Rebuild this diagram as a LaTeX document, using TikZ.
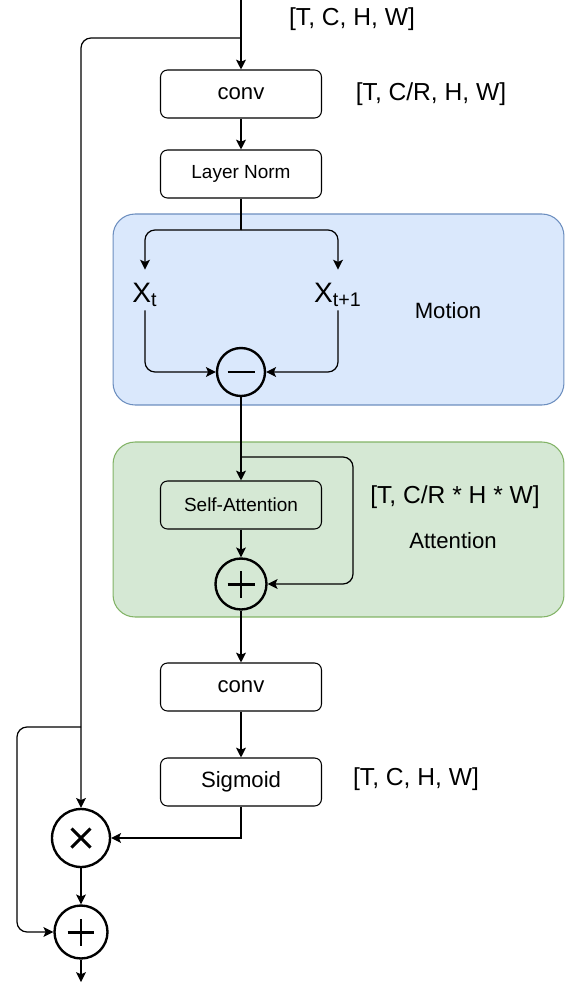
\documentclass[tikz,border=0pt]{standalone}
\usepackage{fontspec}
\setmainfont{Liberation Sans}
\usetikzlibrary{arrows.meta}
\definecolor{motionfill}{HTML}{DAE8FC}
\definecolor{motionline}{HTML}{6C8EBF}
\definecolor{attnfill}{HTML}{D5E8D4}
\definecolor{attnline}{HTML}{82B366}

\begin{document}
\begin{tikzpicture}[x=0.02cm, y=-0.02cm,
  blk/.style={draw, rounded corners=0.14cm, minimum width=3.22cm, minimum height=0.96cm, inner sep=0pt, line width=0.6pt, font=\fontsize{12.6}{14}\selectfont},
  smallblk/.style={blk, font=\fontsize{10.8}{12}\selectfont},
  region/.style={rounded corners=0.44cm, line width=0.6pt, minimum width=9.02cm, inner sep=0pt},
  dims/.style={font=\fontsize{14}{16}\selectfont, inner sep=0pt},
  tag/.style={font=\fontsize{12.6}{14}\selectfont, inner sep=0pt},
  xlbl/.style={font=\fontsize{16}{18}\selectfont, inner sep=0pt, text height=0.64cm, text depth=0.16cm},
  opc/.style={circle, draw, line width=1.35pt, inner sep=0pt},
  sumop/.style={opc, path picture={\draw[line width=1.7pt] ([xshift=-0.27cm]path picture bounding box.center) -- ([xshift=0.27cm]path picture bounding box.center) ([yshift=-0.27cm]path picture bounding box.center) -- ([yshift=0.27cm]path picture bounding box.center);}},
  diffop/.style={opc, path picture={\draw[line width=1.7pt] ([xshift=-0.27cm]path picture bounding box.center) -- ([xshift=0.27cm]path picture bounding box.center);}},
  multop/.style={opc, path picture={\draw[line width=1.7pt] ([xshift=-0.19cm,yshift=-0.19cm]path picture bounding box.center) -- ([xshift=0.19cm,yshift=0.19cm]path picture bounding box.center) ([xshift=-0.19cm,yshift=0.19cm]path picture bounding box.center) -- ([xshift=0.19cm,yshift=-0.19cm]path picture bounding box.center);}},
  arr/.style={-{Stealth[length=5.6pt,width=5.6pt,inset=1.2pt]}, line width=0.7pt},
  rnd/.style={rounded corners=0.2cm}]
\useasboundingbox (0,0) rectangle (569,984);
% background regions
\node[region, fill=motionfill, draw=motionline, minimum height=3.82cm] (motionbg) at (338.5,309.5) {};
\node[region, fill=attnfill, draw=attnline, minimum height=3.5cm] (attnbg) at (338.5,529.5) {};
% main column
\coordinate (in) at (241,0);
\coordinate (split) at (241,38);
\node[blk] (conv1) at (241,94) {conv};
\node[smallblk] (ln) at (241,174) {Layer Norm};
\coordinate (fork) at (241,230);
\node[xlbl] (xt) at (145,290) {X\textsubscript{t}};
\node[xlbl] (xt1) at (338,290) {X\textsubscript{t+1}};
\node[diffop, minimum size=0.96cm] (minus) at (241,372) {};
\coordinate (attsplit) at (241,457);
\coordinate (attright) at (353,520);
\node[smallblk] (sa) at (241,505) {Self-Attention};
\node[sumop, minimum size=1.02cm] (attplus) at (241,584) {};
\node[blk] (conv2) at (241,687) {conv};
\node[blk] (sig) at (241,782) {Sigmoid};
% output column
\node[multop, minimum size=1.16cm] (times) at (81,838) {};
\node[sumop, minimum size=1.06cm] (botplus) at (81,932) {};
\coordinate (skip) at (81,727);
\coordinate (skipleft) at (17,830);
\coordinate (out) at (81,982);
% labels
\node[dims] (d1) at (352,19) {[T, C, H, W]};
\node[dims] (d2) at (431,94) {[T, C/R, H, W]};
\node[dims] (d3) at (455,497) {[T, C/R * H * W]};
\node[dims] (d4) at (416,779) {[T, C, H, W]};
\node[tag] (mlbl) at (448,311) {Motion};
\node[tag] (albl) at (453,541) {Attention};
% connectors
\draw[arr] (in) -- (conv1);
\draw[arr, rnd] (split) -| (times);
\draw[arr] (conv1) -- (ln);
\draw[line width=0.7pt] (ln) -- (fork);
\draw[arr, rnd] (fork) -| (xt);
\draw[arr, rnd] (fork) -| (xt1);
\draw[arr, rnd] (xt) |- (minus);
\draw[arr, rnd] (xt1) |- (minus);
\draw[arr] (minus) -- (sa);
\draw[arr, rnd] (attsplit) -| (attright) |- (attplus);
\draw[arr] (sa) -- (attplus);
\draw[arr] (attplus) -- (conv2);
\draw[arr] (conv2) -- (sig);
\draw[arr] (sig) |- (times);
\draw[arr] (times) -- (botplus);
\draw[arr, rnd] (skip) -| (skipleft) |- (botplus);
\draw[arr] (botplus) -- (out);
\end{tikzpicture}
\end{document}
